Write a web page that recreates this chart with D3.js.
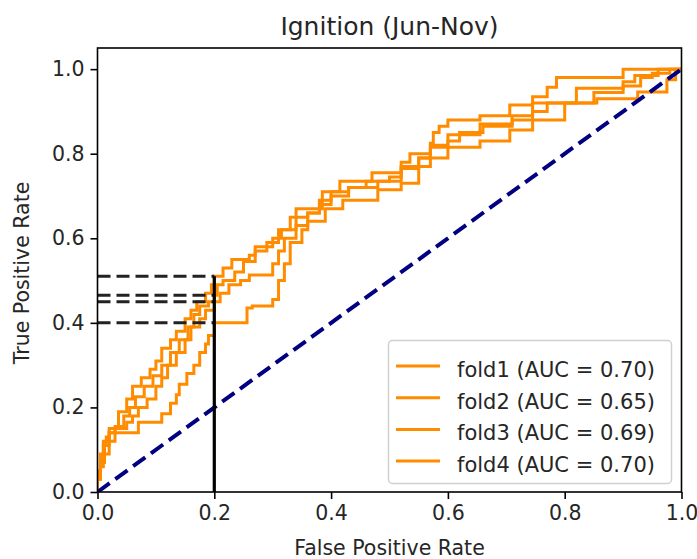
<!DOCTYPE html>
<html><head><meta charset="utf-8">
<script src="https://cdn.jsdelivr.net/npm/d3@7"></script>
<style>body{margin:0;background:#fff}svg{display:block;font-family:"DejaVu Sans",sans-serif}</style>
</head><body>
<svg id="c" width="697" height="559"></svg>
<script>
const title = "Ignition (Jun-Nov)";
const xTicks = [0, 0.2, 0.4, 0.6, 0.8, 1.0];
const yTicks = [0, 0.2, 0.4, 0.6, 0.8, 1.0];
const foldNames = ["fold1 (AUC = 0.70)", "fold2 (AUC = 0.65)", "fold3 (AUC = 0.69)", "fold4 (AUC = 0.70)"];
const fold1 = [[0,0],[0,0.04],[0.005,0.08],[0.01,0.11],[0.015,0.13],[0.02,0.15],[0.036,0.19],[0.05,0.22],[0.06,0.25],[0.075,0.27],[0.09,0.29],[0.1,0.31],[0.11,0.34],[0.125,0.36],[0.135,0.38],[0.15,0.41],[0.16,0.43],[0.17,0.45],[0.185,0.47],[0.195,0.49],[0.2,0.51],[0.215,0.53],[0.23,0.55],[0.26,0.56],[0.27,0.58],[0.3,0.60],[0.315,0.62],[0.34,0.67],[0.385,0.71],[0.415,0.735],[0.47,0.755],[0.52,0.78],[0.535,0.8],[0.57,0.825],[0.575,0.85],[0.585,0.865],[0.6,0.88],[0.655,0.89],[0.706,0.915],[0.745,0.935],[0.77,0.957],[0.786,0.98],[0.9,1.0],[1,1]];
const fold2 = [[0,0],[0,0.03],[0.005,0.06],[0.01,0.09],[0.02,0.12],[0.03,0.14],[0.07,0.165],[0.11,0.185],[0.125,0.21],[0.135,0.23],[0.14,0.255],[0.153,0.28],[0.165,0.3],[0.175,0.33],[0.185,0.35],[0.19,0.37],[0.2,0.40],[0.256,0.435],[0.265,0.44],[0.3,0.455],[0.31,0.5],[0.32,0.54],[0.33,0.59],[0.35,0.62],[0.36,0.64],[0.39,0.67],[0.42,0.69],[0.48,0.715],[0.52,0.73],[0.55,0.77],[0.57,0.79],[0.6,0.815],[0.655,0.83],[0.706,0.856],[0.745,0.88],[0.8,0.92],[0.855,0.93],[0.925,0.946],[0.975,0.975],[0.99,1.0],[1,1]];
const fold3 = [[0,0],[0,0.03],[0.005,0.07],[0.012,0.11],[0.02,0.14],[0.03,0.155],[0.045,0.18],[0.055,0.2],[0.065,0.225],[0.08,0.25],[0.095,0.275],[0.11,0.3],[0.125,0.33],[0.14,0.36],[0.155,0.39],[0.165,0.42],[0.175,0.44],[0.19,0.45],[0.2,0.465],[0.205,0.49],[0.215,0.5],[0.235,0.52],[0.25,0.545],[0.27,0.57],[0.29,0.59],[0.31,0.62],[0.33,0.65],[0.36,0.66],[0.38,0.69],[0.4,0.71],[0.43,0.72],[0.46,0.735],[0.5,0.745],[0.52,0.765],[0.55,0.79],[0.57,0.815],[0.6,0.83],[0.62,0.85],[0.66,0.865],[0.71,0.88],[0.745,0.9],[0.77,0.92],[0.82,0.955],[0.9,0.97],[0.92,0.985],[0.96,1.0],[1,1]];
const fold4 = [[0,0],[0,0.05],[0.005,0.09],[0.01,0.12],[0.02,0.14],[0.03,0.15],[0.05,0.165],[0.06,0.18],[0.07,0.2],[0.085,0.22],[0.1,0.25],[0.11,0.27],[0.12,0.3],[0.135,0.33],[0.15,0.36],[0.16,0.39],[0.175,0.41],[0.185,0.43],[0.2,0.45],[0.21,0.47],[0.225,0.49],[0.245,0.5],[0.26,0.513],[0.3,0.54],[0.31,0.57],[0.32,0.6],[0.34,0.63],[0.36,0.66],[0.38,0.68],[0.4,0.7],[0.43,0.72],[0.48,0.735],[0.52,0.77],[0.55,0.79],[0.57,0.82],[0.6,0.845],[0.655,0.87],[0.71,0.89],[0.745,0.92],[0.85,0.945],[0.9,0.96],[0.93,0.98],[0.95,0.99],[0.98,1.0],[1,1]];
const thresholdFPR = 0.2;
const tprAtThreshold = [0.51, 0.40, 0.465, 0.45];
const diagonal = [[0,0],[1,1]];

const svg = d3.select("#c");
const L = 97.5, R = 681.5, T = 48, B = 492;
const x = d3.scaleLinear().domain([0,1]).range([L,R]);
const y = d3.scaleLinear().domain([0,1.05]).range([B,T]);
const TXT = "#262626";

svg.append("text").attr("x",(L+R)/2).attr("y",35).attr("text-anchor","middle")
  .attr("font-size",25).attr("fill",TXT).text(title);

const g = svg.append("g");
svg.append("clipPath").attr("id","pc").append("rect")
  .attr("x",L).attr("y",T).attr("width",R-L).attr("height",B-T);
const plot = g.append("g").attr("clip-path","url(#pc)");

const lineStep = d3.line().x(d=>x(d[0])).y(d=>y(d[1])).curve(d3.curveStepAfter);
const lineLin = d3.line().x(d=>x(d[0])).y(d=>y(d[1]));

[fold1, fold2, fold3, fold4].forEach(f=>{
  plot.append("path").attr("d",lineStep(f)).attr("fill","none")
    .attr("stroke","#ff8c00").attr("stroke-width",3).attr("stroke-linejoin","miter");
});

plot.append("path").attr("d",lineLin(diagonal)).attr("fill","none")
  .attr("stroke","#000080").attr("stroke-width",4).attr("stroke-dasharray","15,7");

tprAtThreshold.forEach(t=>{
  plot.append("line").attr("x1",x(0)).attr("x2",x(thresholdFPR)).attr("y1",y(t)).attr("y2",y(t))
    .attr("stroke","#222").attr("stroke-width",3).attr("stroke-dasharray","13,6");
});
plot.append("line").attr("x1",x(thresholdFPR)).attr("x2",x(thresholdFPR))
  .attr("y1",y(0)).attr("y2",y(d3.max(tprAtThreshold)))
  .attr("stroke","#000").attr("stroke-width",3.2);

g.append("rect").attr("x",L).attr("y",T).attr("width",R-L).attr("height",B-T)
  .attr("fill","none").attr("stroke","#000").attr("stroke-width",1.6);

const xa = svg.append("g").attr("transform",`translate(0,${B})`)
  .call(d3.axisBottom(x).tickValues(xTicks).tickFormat(d3.format(".1f")).tickSize(7).tickPadding(6));
const ya = svg.append("g").attr("transform",`translate(${L},0)`)
  .call(d3.axisLeft(y).tickValues(yTicks).tickFormat(d3.format(".1f")).tickSize(7).tickPadding(6));
[xa,ya].forEach(a=>{
  a.select(".domain").remove();
  a.selectAll("text").attr("font-size",20.5).attr("fill",TXT).attr("font-family","DejaVu Sans");
  a.selectAll("line").attr("stroke","#000").attr("stroke-width",1.6);
});

svg.append("text").attr("x",(L+R)/2).attr("y",555).attr("text-anchor","middle")
  .attr("font-size",20.5).attr("fill",TXT).text("False Positive Rate");
svg.append("text").attr("transform",`translate(29,${(T+B)/2+3}) rotate(-90)`).attr("text-anchor","middle")
  .attr("font-size",20.5).attr("fill",TXT).text("True Positive Rate");

const lg = svg.append("g");
lg.append("rect").attr("x",388.5).attr("y",340.5).attr("width",283).attr("height",143)
  .attr("rx",4).attr("fill","#fff").attr("fill-opacity",0.8).attr("stroke","#d0d0d0").attr("stroke-width",1.5);
foldNames.forEach((n,i)=>{
  const yy = 366 + i*31.7;
  lg.append("line").attr("x1",396).attr("x2",440).attr("y1",yy).attr("y2",yy)
    .attr("stroke","#ff8c00").attr("stroke-width",3);
  lg.append("text").attr("x",457).attr("y",yy+11).attr("font-size",21).attr("fill",TXT).text(n);
});
</script>
</body></html>
